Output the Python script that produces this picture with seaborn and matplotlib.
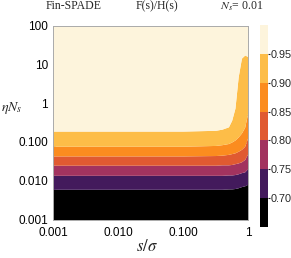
import numpy as np
import matplotlib
matplotlib.use("Agg")
import matplotlib.pyplot as plt
from matplotlib.colors import ListedColormap, BoundaryNorm
from matplotlib.ticker import LogLocator, FixedLocator, NullFormatter
import seaborn as sns

sns.set_theme(style="ticks")
plt.rcParams['font.family'] = ['Liberation Sans', 'DejaVu Sans']
plt.rcParams['mathtext.fontset'] = 'stix'

# log10(s/sigma) sample points
log_s = [-3.0, -2.0, -1.0, -0.5, -0.4, -0.3, -0.25, -0.2, -0.15, -0.1, -0.05, 0.0]
# log10(eta N_s) of each contour level
c095 = [-0.72, -0.72, -0.72, -0.70, -0.67, -0.61, -0.44, -0.13, 0.68, 1.16, 1.24, 1.20]
c090 = [-1.11, -1.11, -1.11, -1.09, -1.07, -1.04, -1.00, -0.95, -0.87, -0.77, -0.62, -0.22]
c085 = [-1.36, -1.36, -1.36, -1.35, -1.34, -1.32, -1.30, -1.28, -1.24, -1.19, -1.11, -0.87]
c080 = [-1.60, -1.60, -1.60, -1.60, -1.59, -1.59, -1.58, -1.56, -1.54, -1.51, -1.45, -1.29]
c075 = [-1.86, -1.86, -1.86, -1.86, -1.86, -1.85, -1.85, -1.84, -1.82, -1.79, -1.77, -1.68]
c070 = [-2.22, -2.22, -2.22, -2.22, -2.22, -2.21, -2.21, -2.20, -2.18, -2.15, -2.13, -2.09]

levels = [0.65, 0.70, 0.75, 0.80, 0.85, 0.90, 0.95, 1.00]
band_colors = ['#000000', '#431a5c', '#a2335f', '#e05a31', '#fb8c1f', '#fdbd48', '#fdf4dc']
tick_vals = [0.70, 0.75, 0.80, 0.85, 0.90, 0.95]

fig = plt.figure(figsize=(2.91, 2.58), dpi=100)
ax = fig.add_axes([0.182, 0.149, 0.670, 0.752])

s = 10.0 ** np.array(log_s)
bounds = [np.full(len(log_s), -3.0)] + [np.array(c) for c in (c070, c075, c080, c085, c090, c095)] + [np.full(len(log_s), 2.0)]
for i, col in enumerate(band_colors):
    ax.fill_between(s, 10.0 ** bounds[i], 10.0 ** bounds[i + 1], color=col, lw=0)

ax.set_xscale('log')
ax.set_yscale('log')
ax.set_xlim(1e-3, 1)
ax.set_ylim(1e-3, 100)
ax.set_xticks([1e-3, 1e-2, 1e-1, 1])
ax.set_xticklabels(['0.001', '0.010', '0.100', '1'])
ax.set_yticks([1e-3, 1e-2, 1e-1, 1, 10, 100])
ax.set_yticklabels(['0.001', '0.010', '0.100', '1', '10', '100'])
ax.xaxis.set_minor_locator(LogLocator(base=10, subs=np.arange(2, 10)))
ax.yaxis.set_minor_locator(LogLocator(base=10, subs=np.arange(2, 10)))
ax.xaxis.set_minor_formatter(NullFormatter())
ax.yaxis.set_minor_formatter(NullFormatter())
ax.tick_params(which='both', direction='in', top=True, right=True, colors='#999999',
               labelcolor='black', labelsize=8.5)
ax.tick_params(axis='x', which='major', pad=5)
ax.tick_params(axis='y', which='major', pad=3.5)
ax.tick_params(which='major', length=3, width=0.6)
ax.tick_params(which='minor', length=1.5, width=0.5)
for sp in ax.spines.values():
    sp.set_color('#aaaaaa')
    sp.set_linewidth(0.7)

cax = fig.add_axes([0.893, 0.120, 0.027, 0.783])
cmap = ListedColormap(band_colors)
norm = BoundaryNorm(levels, cmap.N)
cb = fig.colorbar(plt.cm.ScalarMappable(norm=norm, cmap=cmap), cax=cax, ticks=tick_vals)
cb.outline.set_visible(False)
cb.ax.set_yticklabels(['%.2f' % v for v in tick_vals])
cb.ax.tick_params(labelsize=7.8, length=1.5, width=0.8, pad=0.5)
cb.ax.yaxis.set_minor_locator(FixedLocator([]))

fig.text(0.254, 0.975, 'Fin-SPADE', ha='center', va='center', fontsize=8.5, family='Liberation Serif')
fig.text(0.540, 0.975, 'F(s)/H(s)', ha='center', va='center', fontsize=8.5, family='Liberation Serif')
fig.text(0.832, 0.975, r'$N_s$= 0.01', ha='center', va='center', fontsize=8.5, family='Liberation Serif')
fig.text(0.505, 0.045, r'$s/\sigma$', ha='center', va='center', fontsize=12)
fig.text(0.004, 0.582, r'$\eta N_s$', ha='left', va='center', fontsize=10)

fig.savefig('out.png', dpi=100)
